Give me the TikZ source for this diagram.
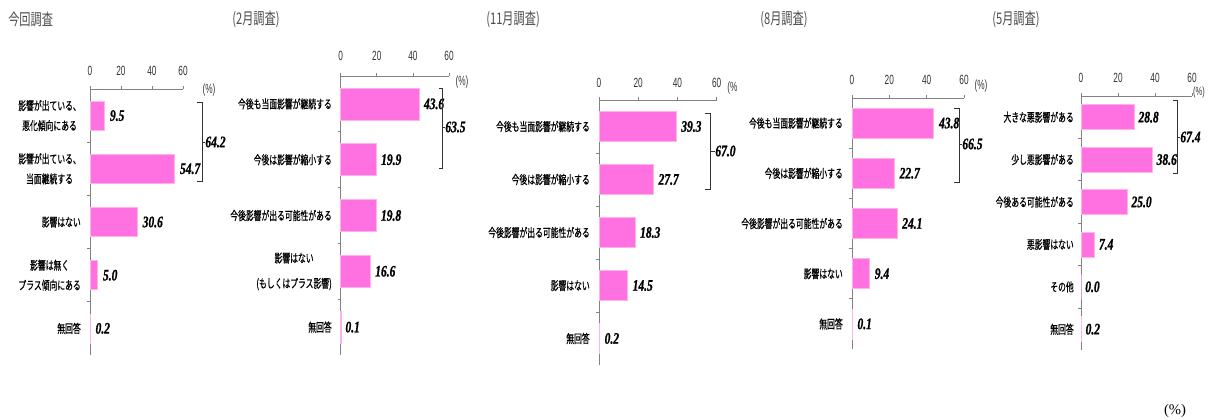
\documentclass[tikz,border=0pt]{standalone}
\usepackage{fontspec}
\setmainfont{Liberation Serif}
\newfontfamily\jpfont[FakeStretch=0.65, FakeBold=0.6]{Noto Sans CJK JP}
\newfontfamily\titlefont[FakeStretch=0.7]{Noto Sans CJK JP}
\newfontfamily\numfont[FakeStretch=0.72, FakeBold=1]{Liberation Serif}
\newfontfamily\axfont[FakeStretch=0.62]{Liberation Sans}
\definecolor{barpink}{RGB}{255,112,224}
\definecolor{barline}{RGB}{255,178,238}
\definecolor{axisgray}{RGB}{130,130,130}
\tikzset{
  panel title/.style={font=\titlefont\fontsize{12}{12}\selectfont, text=black!70, anchor=west, inner sep=0pt},
  tick label/.style={font=\axfont\fontsize{10}{10}\selectfont, text=black!80, inner sep=0pt},
  cat label/.style={font=\jpfont\fontsize{9}{15}\selectfont, align=center, anchor=east, inner sep=0pt},
  val label/.style={font=\numfont\bfseries\itshape\fontsize{12}{12}\selectfont, anchor=west, inner sep=0pt},
  axis line/.style={draw=axisgray, line width=0.6pt},
  bar/.style={fill=barpink, draw=barline, line width=0.5pt},
  brace line/.style={draw=black!80, line width=0.6pt},
}

\begin{document}
\begin{tikzpicture}[x=0.75pt, y=-0.75pt]
\useasboundingbox (0,0) rectangle (1208,419);

% 今回調査
\node[panel title] (title1) at (8,19) {今回調査};
\coordinate (o1) at (90,89);
\draw[axis line] (o1) -- (183,89);
\draw[axis line] (o1) -- (90,355);
\foreach \x in {0,20,40,60} {
  \draw[axis line] (90+\x*1.55,89) -- ++(0,-3);
  \node[tick label] (tk1-\x) at (90+\x*1.55,71) {\x};
}
\foreach \k in {1,...,4} \draw[axis line] (90,89+\k*53.2) -- ++(-3,0);
\node[tick label] (pc1) at (209,90) {(\%)};
\foreach \v/\t [count=\i] in {9.5/{影響が出ている、\\悪化傾向にある}, 54.7/{影響が出ている、\\当面継続する}, 30.6/影響はない, 5.0/{影響は無く\\プラス傾向にある}, 0.2/無回答} {
  \draw[bar] (90,89+\i*53.2-26.6-14.5) rectangle ++(\v*1.55,29);
  \node[val label] (v1-\i) at (95+\v*1.55,89+\i*53.2-26.6) {\v};
  \node[cat label] (l1-\i) at (81,89+\i*53.2-26.6) {\t};
}
\draw[brace line] (197,102) -- (202,102) -- (202,181) -- (197,181);
\draw[brace line] (202,142) -- (205,142) node[val label] (s1) {64.2};

% 2月調査
\node[panel title] (title2) at (232,19) {(2月調査)};
\coordinate (o2) at (340.7,76);
\draw[axis line] (o2) -- (449,76);
\draw[axis line] (o2) -- (340.7,355);
\foreach \x in {0,20,40,60} {
  \draw[axis line] (340.7+\x*1.805,76) -- ++(0,-3);
  \node[tick label] (tk2-\x) at (340.7+\x*1.805,56) {\x};
}
\foreach \k in {1,...,4} \draw[axis line] (340.7,76+\k*55.8) -- ++(-3,0);
\node[tick label] (pc2) at (462,82) {(\%)};
\foreach \v/\t [count=\i] in {43.6/今後も当面影響が継続する, 19.9/今後は影響が縮小する, 19.8/今後影響が出る可能性がある, 16.6/{影響はない\\[4pt](もしくはプラス影響)}, 0.1/無回答} {
  \draw[bar] (340.7,76+\i*55.8-27.9-16) rectangle ++(\v*1.805,32);
  \node[val label] (v2-\i) at (345+\v*1.805,76+\i*55.8-27.9) {\v};
  \node[cat label] (l2-\i) at (332,76+\i*55.8-27.9) {\t};
}
\draw[brace line] (439,88) -- (442,88) -- (442,168) -- (439,168);
\draw[brace line] (442,127) -- (445,127) node[val label] (s2) {63.5};

% 11月調査
\node[panel title] (title3) at (486,19) {(11月調査)};
\coordinate (o3) at (599,100);
\draw[axis line] (o3) -- (716.7,100);
\draw[axis line] (o3) -- (599,365);
\foreach \x in {0,20,40,60} {
  \draw[axis line] (599+\x*1.96,100) -- ++(0,-3);
  \node[tick label] (tk3-\x) at (599+\x*1.96,83) {\x};
}
\foreach \k in {1,...,4} \draw[axis line] (599,100+\k*53) -- ++(-3,0);
\node[tick label, anchor=west] (pc3) at (727,88) {(\%};
\foreach \v/\t [count=\i] in {39.3/今後も当面影響が継続する, 27.7/今後は影響が縮小する, 18.3/今後影響が出る可能性がある, 14.5/影響はない, 0.2/無回答} {
  \draw[bar] (599,100+\i*53-26.5-15) rectangle ++(\v*1.96,30);
  \node[val label] (v3-\i) at (604+\v*1.96,100+\i*53-26.5) {\v};
  \node[cat label] (l3-\i) at (590,100+\i*53-26.5) {\t};
}
\draw[brace line] (705,113) -- (710,113) -- (710,189) -- (705,189);
\draw[brace line] (710,151) -- (715,151) node[val label] (s3) {67.0};

% 8月調査
\node[panel title] (title4) at (760,19) {(8月調査)};
\coordinate (o4) at (852,98);
\draw[axis line] (o4) -- (964,98);
\draw[axis line] (o4) -- (852,349);
\foreach \x in {0,20,40,60} {
  \draw[axis line] (852+\x*1.867,98) -- ++(0,-3);
  \node[tick label] (tk4-\x) at (852+\x*1.867,80) {\x};
}
\foreach \k in {1,...,4} \draw[axis line] (852,98+\k*50.2) -- ++(-3,0);
\node[tick label] (pc4) at (981,86) {(\%)};
\foreach \v/\t [count=\i] in {43.8/今後も当面影響が継続する, 22.7/今後は影響が縮小する, 24.1/今後影響が出る可能性がある, 9.4/影響はない, 0.1/無回答} {
  \draw[bar] (852,98+\i*50.2-25.1-15) rectangle ++(\v*1.867,30);
  \node[val label] (v4-\i) at (857+\v*1.867,98+\i*50.2-25.1) {\v};
  \node[cat label] (l4-\i) at (843,98+\i*50.2-25.1) {\t};
}
\draw[brace line] (954,108) -- (959,108) -- (959,182) -- (954,182);
\draw[brace line] (959,144) -- (962,144) node[val label] (s4) {66.5};

% 5月調査
\node[panel title] (title5) at (992,19) {(5月調査)};
\coordinate (o5) at (1081,96);
\draw[axis line] (o5) -- (1192,96);
\draw[axis line] (o5) -- (1081,350);
\foreach \x in {0,20,40,60} {
  \draw[axis line] (1081+\x*1.85,96) -- ++(0,-3);
  \node[tick label] (tk5-\x) at (1081+\x*1.85,78) {\x};
}
\foreach \k in {1,...,5} \draw[axis line] (1081,96+\k*42.4) -- ++(-3,0);
\node[tick label, font=\axfont\fontsize{9}{9}\selectfont] (pc5) at (1199,92) {(\%)};
\foreach \v/\t [count=\i] in {28.8/大きな悪影響がある, 38.6/少し悪影響がある, 25.0/今後ある可能性がある, 7.4/悪影響はない, 0.0/その他, 0.2/無回答} {
  \draw[bar] (1081,96+\i*42.4-21.2-12.5) rectangle ++(\v*1.85,25);
  \node[val label] (v5-\i) at (1085+\v*1.85,96+\i*42.4-21.2) {\v};
  \node[cat label] (l5-\i) at (1074,96+\i*42.4-21.2) {\t};
}
\draw[brace line] (1173,100) -- (1177,100) -- (1177,173) -- (1173,173);
\draw[brace line] (1177,137) -- (1180,137) node[val label] (s5) {67.4};

% unit
\node[font=\fontsize{11}{12}\selectfont, inner sep=0pt] (unit) at (1175,411) {(\%)};
\end{tikzpicture}
\end{document}
